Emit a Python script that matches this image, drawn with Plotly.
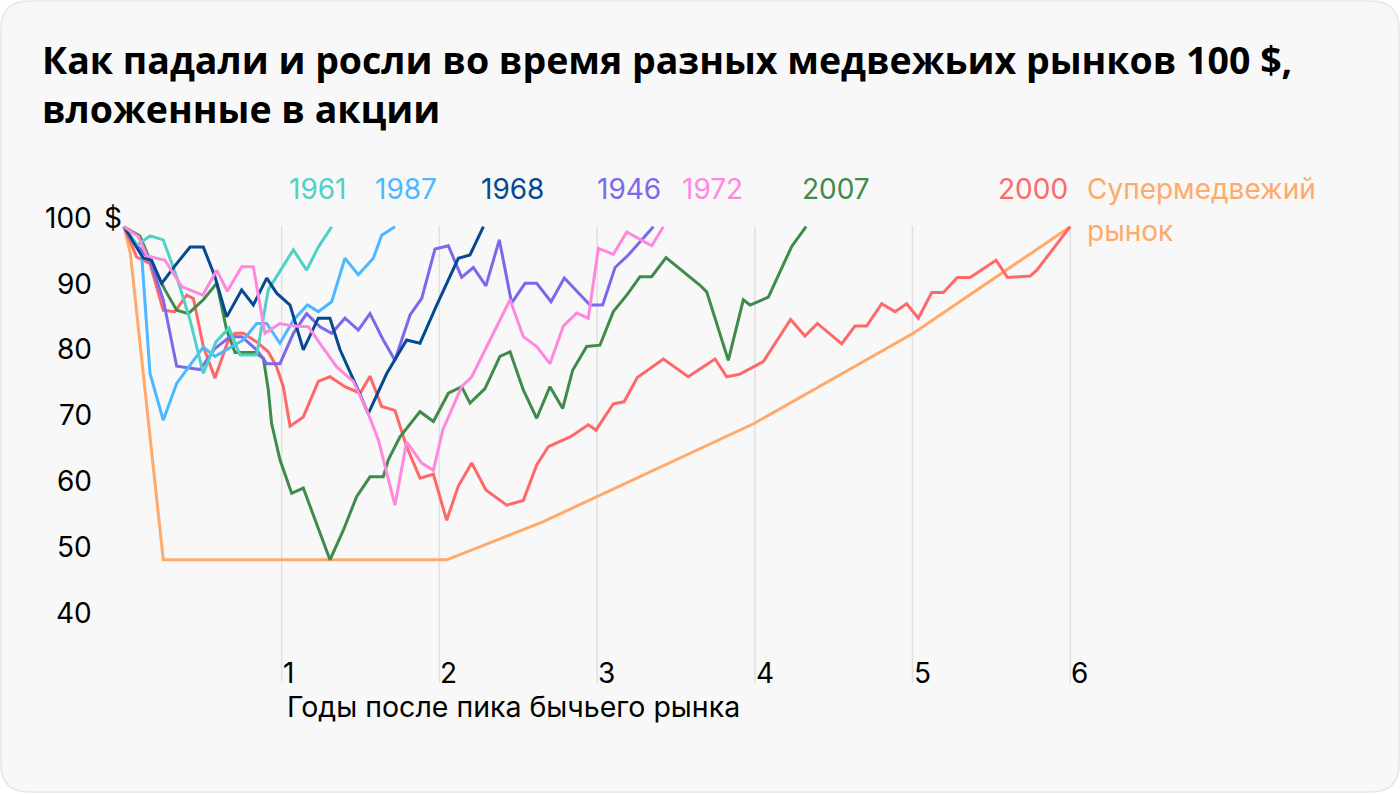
import plotly.graph_objects as go

# ---------------- data (years after bull-market peak, value of $100) ----------------
x_1961 = [0, 0.082, 0.165, 0.249, 0.334, 0.419, 0.503, 0.583, 0.666, 0.736, 0.841, 0.915, 1.074, 1.158, 1.232, 1.317]
y_1961 = [100, 97.2, 98.6, 98.0, 92.4, 85.8, 77.7, 82.5, 84.6, 80.5, 80.5, 90.4, 96.5, 93.4, 96.9, 100]

x_1987 = [0, 0.112, 0.165, 0.249, 0.334, 0.419, 0.503, 0.577, 0.662, 0.757, 0.841, 0.905, 0.989, 1.074,
          1.163, 1.232, 1.317, 1.401, 1.486, 1.581, 1.634, 1.718]
y_1987 = [100, 95.7, 77.7, 70.6, 76.2, 79.0, 81.7, 80.3, 81.5, 82.8, 85.3, 85.3, 82.3, 85.8,
          88.1, 87.1, 88.6, 95.2, 92.7, 95.2, 98.7, 100]

x_1968 = [0, 0.123, 0.175, 0.239, 0.334, 0.419, 0.503, 0.577, 0.651, 0.746, 0.82, 0.905, 0.968, 1.053,
          1.137, 1.232, 1.306, 1.37, 1.475, 1.549, 1.666, 1.792, 1.877, 1.983, 2.12, 2.194, 2.279]
y_1968 = [100, 95.2, 94.9, 91.4, 94.4, 96.9, 96.9, 92.4, 86.3, 90.4, 88.1, 92.2, 89.9, 88.1,
          81.3, 86.1, 86.1, 81.3, 75.7, 71.6, 77.7, 82.8, 82.3, 88.1, 95.2, 95.7, 100]

x_1946 = [0, 0.082, 0.165, 0.249, 0.334, 0.482, 0.577, 0.672, 0.746, 0.841, 0.905, 0.989, 1.074, 1.158,
          1.243, 1.317, 1.401, 1.486, 1.56, 1.644, 1.718, 1.814, 1.888, 1.972, 2.057, 2.141, 2.215,
          2.295, 2.38, 2.458, 2.543, 2.617, 2.708, 2.792, 2.955, 3.035, 3.114, 3.198, 3.357]
y_1946 = [100, 97.2, 94.9, 88.9, 78.8, 78.3, 81.5, 83.3, 83.3, 81.3, 79.2, 79.2, 83.8, 86.8,
          84.8, 83.8, 86.1, 84.3, 86.8, 82.8, 79.7, 86.6, 89.1, 96.6, 97.1, 92.3, 93.8,
          91.0, 98.0, 88.4, 91.4, 91.4, 88.6, 92.2, 88.1, 88.1, 93.8, 95.7, 100]

x_1972 = [0, 0.091, 0.144, 0.26, 0.366, 0.499, 0.588, 0.655, 0.746, 0.82, 0.894, 0.989, 1.074, 1.169,
          1.253, 1.349, 1.454, 1.539, 1.613, 1.666, 1.718, 1.792, 1.888, 1.962, 2.021, 2.141, 2.205,
          2.448, 2.532, 2.617, 2.701, 2.786, 2.87, 2.944, 3.008, 3.103, 3.188, 3.346, 3.42]
y_1972 = [100, 98.5, 95.6, 94.9, 90.9, 89.6, 93.4, 90.2, 93.9, 93.9, 83.8, 85.3, 84.9, 84.8,
          81.9, 78.7, 76.5, 72.2, 67.6, 62.5, 57.7, 67.3, 64.1, 63.0, 69.1, 75.7, 77.2,
          88.9, 83.3, 81.8, 79.2, 84.9, 86.9, 86.1, 96.7, 95.8, 99.2, 97.1, 100]

x_2007 = [0, 0.101, 0.165, 0.26, 0.334, 0.408, 0.503, 0.588, 0.651, 0.704, 0.831, 0.884, 0.915, 0.936,
          0.989, 1.063, 1.137, 1.306, 1.391, 1.475, 1.56, 1.644, 1.676, 1.75, 1.877, 1.962, 2.057,
          2.141, 2.194, 2.289, 2.384, 2.448, 2.532, 2.617, 2.701, 2.782, 2.845, 2.934, 3.018, 3.103,
          3.188, 3.272, 3.346, 3.437, 3.653, 3.695, 3.832, 3.927, 3.97, 4.086, 4.234, 4.325]
y_2007 = [100, 98.6, 94.9, 90.4, 87.3, 86.8, 88.9, 91.4, 84.3, 80.9, 80.9, 80.0, 75.2, 70.1,
          64.6, 59.5, 60.3, 49.4, 53.9, 59.0, 62.0, 62.0, 64.6, 68.1, 71.9, 70.4, 74.7,
          75.7, 73.2, 75.4, 80.3, 81.0, 75.2, 70.9, 75.7, 72.4, 78.2, 81.8, 82.0, 87.1,
          89.6, 92.4, 92.4, 95.3, 91.1, 90.1, 79.7, 88.9, 88.1, 89.3, 97.0, 100]

x_2000 = [0, 0.08, 0.165, 0.249, 0.323, 0.397, 0.44, 0.503, 0.577, 0.662, 0.704, 0.757, 0.841, 0.915,
          0.968, 1.01, 1.053, 1.137, 1.232, 1.306, 1.401, 1.497, 1.56, 1.634, 1.718, 1.792, 1.877,
          1.962, 2.046, 2.12, 2.205, 2.295, 2.427, 2.532, 2.617, 2.691, 2.832, 2.944, 2.993, 3.103,
          3.171, 3.255, 3.42, 3.578, 3.748, 3.822, 3.906, 4.054, 4.227, 4.318, 4.397, 4.551, 4.635,
          4.709, 4.805, 4.889, 4.963, 5.037, 5.122, 5.196, 5.284, 5.365, 5.53, 5.602, 5.746, 5.788, 6.0]
y_2000 = [100, 95.4, 94.4, 87.3, 87.1, 89.6, 89.1, 81.8, 77.0, 82.8, 83.8, 83.8, 82.5, 81.0,
          78.7, 75.7, 69.7, 71.1, 76.5, 77.2, 75.7, 74.7, 77.3, 72.7, 72.1, 66.6, 61.8,
          62.4, 55.4, 60.6, 64.1, 60.0, 57.7, 58.4, 63.8, 66.6, 68.1, 69.9, 69.1, 73.1,
          73.4, 77.1, 79.9, 77.2, 79.9, 77.2, 77.6, 79.5, 85.9, 83.4, 85.3, 82.2, 84.9,
          84.9, 88.3, 87.1, 88.3, 86.1, 90.0, 90.0, 92.3, 92.3, 94.9, 92.3, 92.5, 93.4, 100]

x_super = [0, 0.04, 0.249, 2.046, 2.659, 2.997, 3.995, 5.005, 6.0]
y_super = [100, 96.0, 49.4, 49.4, 55.2, 59.0, 70.1, 83.8, 100]

series = [
    ("Супермедвежий рынок", x_super, y_super, "#ffaa6b"),
    ("2000", x_2000, y_2000, "#ff6868"),
    ("2007", x_2007, y_2007, "#3f8b4b"),
    ("1946", x_1946, y_1946, "#7b68ea"),
    ("1987", x_1987, y_1987, "#4db8ff"),
    ("1961", x_1961, y_1961, "#4fd1c5"),
    ("1968", x_1968, y_1968, "#054a91"),
    ("1972", x_1972, y_1972, "#ff88de"),
]

label_texts = ["1961", "1987", "1968", "1946", "1972", "2007", "2000"]
y_ticks = [90, 80, 70, 60, 50, 40]
x_ticks = [1, 2, 3, 4, 5, 6]

TITLE1 = "Как падали и росли во время разных медвежьих рынков 100 $,"
TITLE2 = "вложенные в акции"
XTITLE = "Годы после пика бычьего рынка"

# ---------------- layout geometry ----------------
W_FIG, H_FIG = 1400, 794
L, R, T, B = 60, 60, 150, 60
PW, PH = W_FIG - L - R, H_FIG - T - B
X0_PX, X_PER = 124.0, 157.7       # pixel of x=0, pixels per year
Y100_PX, Y_PER = 226.7, 6.583     # pixel of value 100, pixels per unit

def px2x(px):
    return (px - X0_PX) / X_PER

def py2v(py):
    return 100 - (py - Y100_PX) / Y_PER

def ppx(px):
    return (px - L) / PW

def ppy(py):
    return (H_FIG - B - py) / PH

FONT = "Inter"
TITLE_FONT = "Open Sans"
colors = {s[0]: s[3] for s in series}

fig = go.Figure()
for name, xs, ys, col in series:
    fig.add_trace(go.Scatter(x=xs, y=ys, mode="lines", name=name,
                             line=dict(color=col, width=3), hoverinfo="skip"))

shapes = []
# card background with rounded corners
x_a, x_b, y_a, y_b, rad = 1, 1399, 1, 792, 28
def P(px, py):
    return f"{ppx(px):.5f},{ppy(py):.5f}"
path = (f"M {P(x_a + rad, y_a)} L {P(x_b - rad, y_a)} Q {P(x_b, y_a)} {P(x_b, y_a + rad)} "
        f"L {P(x_b, y_b - rad)} Q {P(x_b, y_b)} {P(x_b - rad, y_b)} "
        f"L {P(x_a + rad, y_b)} Q {P(x_a, y_b)} {P(x_a, y_b - rad)} "
        f"L {P(x_a, y_a + rad)} Q {P(x_a, y_a)} {P(x_a + rad, y_a)} Z")
shapes.append(dict(type="path", path=path, xref="paper", yref="paper",
                   fillcolor="#f8f8f8", line=dict(color="#e6e6e6", width=1.5), layer="below"))
# vertical grid lines
for xv in x_ticks:
    shapes.append(dict(type="line", xref="x", yref="y", x0=xv, x1=xv,
                       y0=py2v(683), y1=py2v(225.7),
                       line=dict(color="#e0e0e0", width=1.5), layer="below"))

ann = []
def add_text(text, px, py, size, color, xanchor="left", bold=False, family=FONT):
    ann.append(dict(text=text, x=ppx(px), y=ppy(py), xref="paper", yref="paper",
                    xanchor=xanchor, yanchor="middle", showarrow=False, align="left",
                    font=dict(family=family, size=size, color=color,
                              weight=700 if bold else 400)))

add_text(TITLE1 + "<br>" + TITLE2, 40, 84.0, 37.5, "#000000", bold=True, family=TITLE_FONT)

# y labels
add_text("100", 93.7, 217.8, 28, "#000000", xanchor="right")
add_text("$", 102.3, 217.8, 28, "#000000")
for v in y_ticks:
    py = Y100_PX + (100 - v) * Y_PER - 8.9
    add_text(str(v), 93.7, py, 28, "#000000", xanchor="right")

# x labels
for xv in x_ticks:
    add_text(str(xv), X0_PX + xv * X_PER - 1, 672.5, 28, "#000000")
add_text(XTITLE, 285, 706, 28.5, "#000000")

# series labels
label_centers = {"1961": 318, "1987": 406, "1968": 512, "1946": 629, "1972": 712,
                 "2007": 836, "2000": 1033}
for t in label_texts:
    add_text(t, label_centers[t], 189, 28, colors[t], xanchor="center")
add_text("Супермедвежий", 1085, 189, 28, colors["Супермедвежий рынок"])
add_text("рынок", 1085, 231, 28, colors["Супермедвежий рынок"])

fig.update_layout(
    width=W_FIG, height=H_FIG,
    margin=dict(l=L, r=R, t=T, b=B),
    paper_bgcolor="#ffffff", plot_bgcolor="rgba(0,0,0,0)",
    showlegend=False,
    xaxis=dict(range=[px2x(L), px2x(W_FIG - R)], showgrid=False, zeroline=False,
               showticklabels=False, showline=False, fixedrange=True),
    yaxis=dict(range=[py2v(H_FIG - B), py2v(T)], showgrid=False, zeroline=False,
               showticklabels=False, showline=False, fixedrange=True),
    shapes=shapes, annotations=ann,
)

fig.write_html("out.html", config={"displayModeBar": False},
               post_script="document.body.style.margin='0';document.body.style.padding='0';")
